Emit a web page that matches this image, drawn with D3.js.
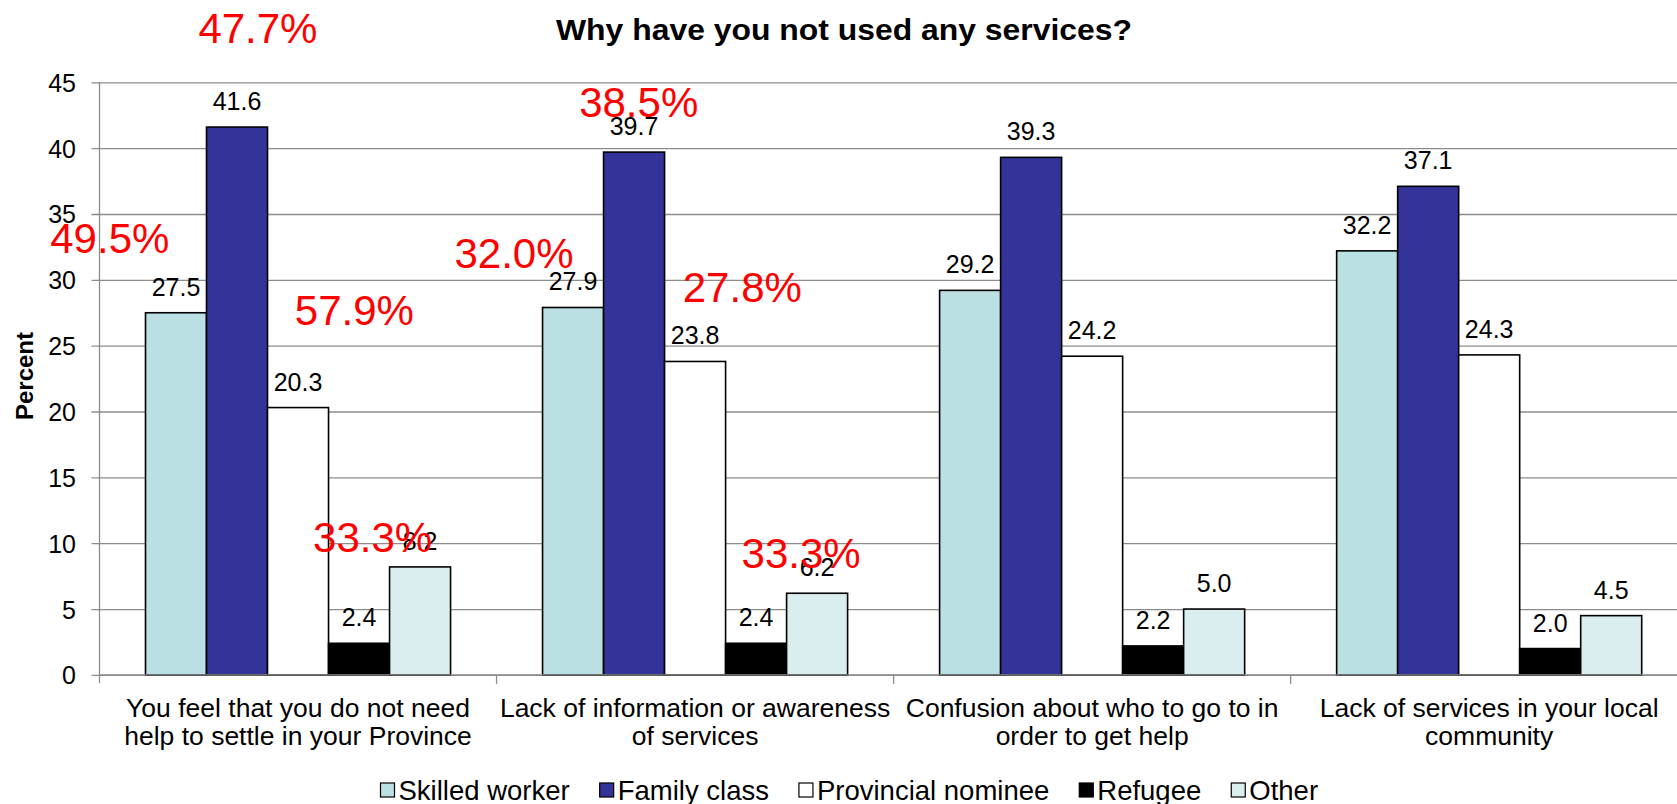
<!DOCTYPE html>
<html>
<head>
<meta charset="utf-8">
<script src="https://cdn.jsdelivr.net/npm/d3@7"></script>
<style>
  html, body { margin: 0; padding: 0; background: #ffffff; overflow: hidden; }
  svg { display: block; }
</style>
</head>
<body>
<svg id="chart" width="1677" height="804"></svg>
<script>
// ---- data ----
const categoryLines = [
  ["You feel that you do not need", "help to settle in your Province"],
  ["Lack of information or awareness", "of services"],
  ["Confusion about who to go to in", "order to get help"],
  ["Lack of services in your local", "community"]
];
const seriesNames = ["Skilled worker", "Family class", "Provincial nominee", "Refugee", "Other"];
const skilledWorker     = [27.5, 27.9, 29.2, 32.2];
const familyClass       = [41.6, 39.7, 39.3, 37.1];
const provincialNominee = [20.3, 23.8, 24.2, 24.3];
const refugee           = [2.4, 2.4, 2.2, 2.0];
const other             = [8.2, 6.2, 5.0, 4.5];
const yTicks = [0, 5, 10, 15, 20, 25, 30, 35, 40, 45];

// red percentage call-outs
const noteTexts = ["47.7%", "49.5%", "57.9%", "33.3%", "38.5%", "32.0%", "27.8%", "33.3%"];
// where each call-out sits: [category position (index + fraction), value on the percent axis]
const notePlacement = [
  [0.399, 48.0], [0.026, 32.0], [0.642, 26.6], [0.688, 9.3],
  [1.358, 42.4], [1.044, 30.9], [1.619, 28.3], [1.767, 8.1]
];

const seriesValues = [skilledWorker, familyClass, provincialNominee, refugee, other];
const seriesFill = ["#bbe0e3", "#333399", "#ffffff", "#000000", "#daeef0"];

// ---- layout ----
const W = 1677, H = 804;
const plotLeft = 99.5, bandW = 397.05, plotTop = 82.3, plotBottom = 674.9;
const font = "'Liberation Sans', Arial, Helvetica, sans-serif";
const gridColor = "#8c8c8c";

const svg = d3.select("#chart").style("font-family", font);

const x = d3.scaleBand().domain(d3.range(categoryLines.length))
  .range([plotLeft, plotLeft + bandW * categoryLines.length]);
const xs = d3.scaleBand().domain(seriesNames).range([46, bandW - 46]);
const xPos = d3.scaleLinear().domain([0, categoryLines.length])
  .range([plotLeft, plotLeft + bandW * categoryLines.length]);
const y = d3.scaleLinear().domain([0, 45]).range([plotBottom, plotTop]);

// ---- y axis with full-width gridlines ----
const yAxis = svg.append("g")
  .attr("transform", `translate(${plotLeft},0)`)
  .call(d3.axisLeft(y).tickValues(yTicks).tickFormat(d3.format("d"))
    .tickSizeInner(-(W - plotLeft)).tickSizeOuter(0).tickPadding(23.5));
yAxis.select(".domain").remove();
yAxis.selectAll(".tick line")
  .attr("x1", -8).attr("stroke", gridColor).attr("stroke-width", 1.3);
yAxis.selectAll(".tick text")
  .attr("fill", "#000").style("font-size", "25px").style("font-family", font)
  .attr("dy", "0.36em");

// vertical axis line
svg.append("line")
  .attr("x1", plotLeft).attr("x2", plotLeft)
  .attr("y1", plotTop).attr("y2", plotBottom + 8)
  .attr("stroke", gridColor).attr("stroke-width", 1.3);

// category boundary ticks below the baseline
svg.append("g").selectAll("line")
  .data(d3.range(1, categoryLines.length))
  .join("line")
  .attr("x1", d => x(d)).attr("x2", d => x(d))
  .attr("y1", plotBottom).attr("y2", plotBottom + 9)
  .attr("stroke", gridColor).attr("stroke-width", 1.3);

// ---- bars ----
const barData = [];
categoryLines.forEach((c, ci) => {
  seriesNames.forEach((s, si) => {
    barData.push({ ci, si, s, v: seriesValues[si][ci] });
  });
});

svg.append("g").selectAll("rect")
  .data(barData)
  .join("rect")
  .attr("x", d => x(d.ci) + xs(d.s))
  .attr("y", d => y(d.v))
  .attr("width", xs.bandwidth())
  .attr("height", d => y(0) - y(d.v))
  .attr("fill", d => seriesFill[d.si])
  .attr("stroke", "#000")
  .attr("stroke-width", 1.6);

// baseline drawn over the bars' bottoms
svg.append("line")
  .attr("x1", plotLeft).attr("x2", W)
  .attr("y1", plotBottom).attr("y2", plotBottom)
  .attr("stroke", gridColor).attr("stroke-width", 1.3);

// value labels
svg.append("g").selectAll("text")
  .data(barData)
  .join("text")
  .attr("x", d => x(d.ci) + xs(d.s) + xs.bandwidth() / 2)
  .attr("y", d => y(d.v) - 17)
  .attr("text-anchor", "middle")
  .style("font-size", "25px")
  .attr("fill", "#000")
  .text(d => d3.format(".1f")(d.v));

// category labels
const catG = svg.append("g").selectAll("text")
  .data(categoryLines)
  .join("text")
  .attr("text-anchor", "middle")
  .style("font-size", "26.5px")
  .attr("fill", "#000");
catG.selectAll("tspan")
  .data((d, i) => d.map(line => ({ line, i })))
  .join("tspan")
  .attr("x", d => x(d.i) + bandW / 2)
  .attr("y", (d, j) => 717 + j * 27.5)
  .text(d => d.line);

// title
svg.append("text")
  .attr("x", 844).attr("y", 40)
  .attr("text-anchor", "middle")
  .style("font-size", "29px").style("font-weight", "bold")
  .attr("textLength", 576).attr("lengthAdjust", "spacingAndGlyphs")
  .text("Why have you not used any services?");

// y axis title
svg.append("text")
  .attr("transform", "translate(33,376) rotate(-90)")
  .attr("text-anchor", "middle")
  .style("font-size", "24px").style("font-weight", "bold")
  .text("Percent");

// legend
const legend = svg.append("g");
let lx = 380.5;
seriesNames.forEach((s, i) => {
  const g = legend.append("g");
  g.append("rect")
    .attr("x", lx).attr("y", 783).attr("width", 14).attr("height", 14)
    .attr("fill", seriesFill[i]).attr("stroke", "#000").attr("stroke-width", 1.2);
  const t = g.append("text")
    .attr("x", lx + 18).attr("y", 799.5)
    .style("font-size", "27.5px")
    .text(s);
  lx += 18 + t.node().getComputedTextLength() + 30;
});

// red call-outs
svg.append("g").selectAll("text")
  .data(noteTexts.map((t, i) => ({ t, p: notePlacement[i] })))
  .join("text")
  .attr("x", d => xPos(d.p[0]))
  .attr("y", d => y(d.p[1]))
  .attr("text-anchor", "middle")
  .style("font-size", "42px")
  .attr("fill", "#ff0000")
  .text(d => d.t);
</script>
</body>
</html>
